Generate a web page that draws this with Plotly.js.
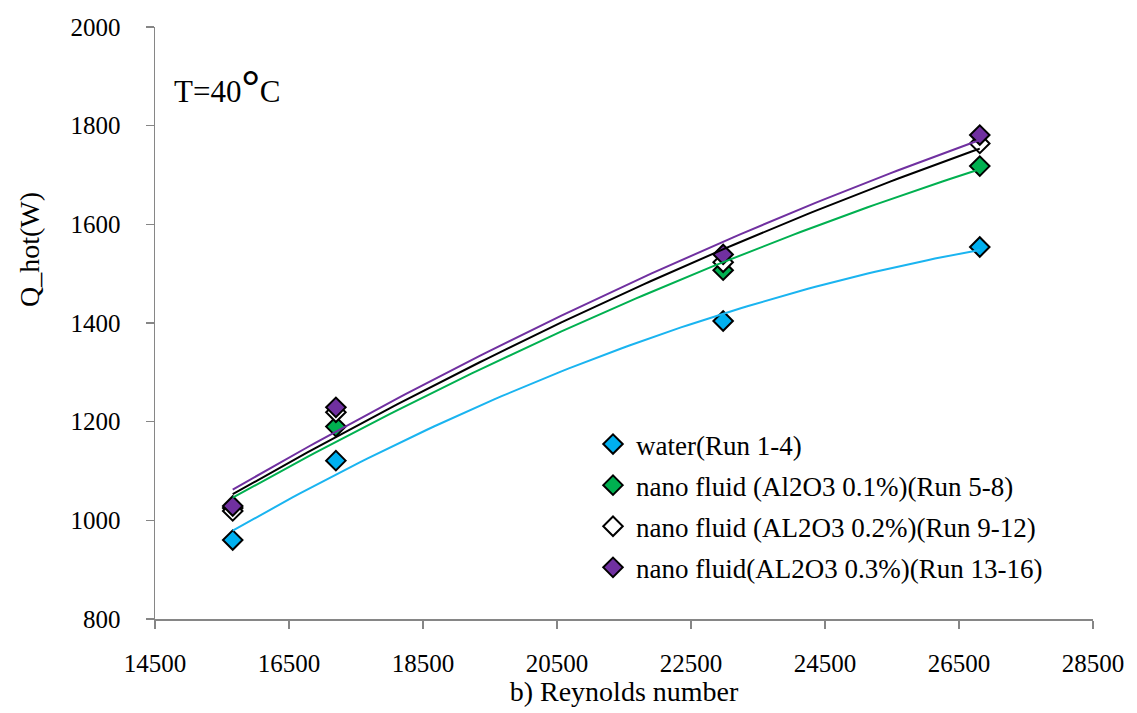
<!DOCTYPE html>
<html>
<head>
<meta charset="utf-8">
<script src="https://cdn.plot.ly/plotly-3.0.1.min.js"></script>
<style>html,body{margin:0;padding:0;background:#fff;}#chart{width:1137px;height:713px;}</style>
</head>
<body>
<div id="chart"></div>
<script>
const reynolds = [15660, 17200, 22980, 26810];
const water = [960, 1121, 1404, 1554];
const al01 = [1025, 1190, 1507, 1718];
const al02 = [1019, 1219, 1523, 1764];
const al03 = [1029, 1229, 1539, 1781];
const seriesNames = [
  'water(Run 1-4)',
  'nano fluid (Al2O3 0.1%)(Run 5-8)',
  'nano fluid (AL2O3 0.2%)(Run 9-12)',
  'nano fluid(AL2O3 0.3%)(Run 13-16)'
];
const xTickVals = [14500, 16500, 18500, 20500, 22500, 24500, 26500, 28500];
const yTickVals = [800, 1000, 1200, 1400, 1600, 1800, 2000];

const markerColors = ['#00B0F0', '#00B050', '#FFFFFF', '#7030A0'];
const lineColors = ['#1AB4F0', '#00B050', '#000000', '#7030A0'];
const allY = [water, al01, al02, al03];

// Excel-style 2nd order polynomial trendline (least squares)
function polyfit2(xs, ys) {
  const x0 = 20000, s = 1000;
  let S = [0,0,0,0,0], T = [0,0,0];
  xs.forEach((x, i) => {
    const t = (x - x0) / s;
    let p = 1;
    for (let k = 0; k < 5; k++) { S[k] += p; if (k < 3) T[k] += p * ys[i]; p *= t; }
  });
  const A = [[S[0],S[1],S[2],T[0]],[S[1],S[2],S[3],T[1]],[S[2],S[3],S[4],T[2]]];
  for (let c = 0; c < 3; c++) {
    for (let r = c + 1; r < 3; r++) {
      const f = A[r][c] / A[c][c];
      for (let k = c; k < 4; k++) A[r][k] -= f * A[c][k];
    }
  }
  const coef = [0,0,0];
  for (let r = 2; r >= 0; r--) {
    let v = A[r][3];
    for (let k = r + 1; k < 3; k++) v -= A[r][k] * coef[k];
    coef[r] = v / A[r][r];
  }
  return x => { const t = (x - x0) / s; return coef[0] + coef[1]*t + coef[2]*t*t; };
}

const traces = [];
allY.forEach((ys, i) => {
  traces.push({
    x: reynolds, y: ys, type: 'scatter', mode: 'markers', name: seriesNames[i],
    legendgroup: 'g' + i,
    marker: {symbol: 'diamond', size: 15, color: markerColors[i], line: {color: '#000000', width: 2}}
  });
});
allY.forEach((ys, i) => {
  const f = polyfit2(reynolds, ys);
  const xmin = Math.min(...reynolds), xmax = Math.max(...reynolds);
  const xs = [], yv = [];
  for (let k = 0; k <= 100; k++) { const x = xmin + (xmax - xmin) * k / 100; xs.push(x); yv.push(f(x)); }
  traces.push({
    x: xs, y: yv, type: 'scatter', mode: 'lines', showlegend: false, hoverinfo: 'skip',
    line: {color: lineColors[i], width: 2}
  });
});

const font = '"Liberation Serif", "DejaVu Serif", serif';
const layout = {
  width: 1137, height: 713,
  margin: {l: 155, r: 44, t: 27, b: 94},
  paper_bgcolor: '#ffffff', plot_bgcolor: '#ffffff',
  font: {family: font, color: '#000000'},
  showlegend: true,
  legend: {
    x: (590 - 155) / 938, y: (619 - 420) / 592, xanchor: 'left', yanchor: 'top',
    font: {family: font, size: 27, color: '#000000'},
    bgcolor: 'rgba(0,0,0,0)', tracegroupgap: 3, itemwidth: 36
  },
  xaxis: {
    range: [14500, 28500], tickvals: xTickVals, ticktext: xTickVals.map(String),
    showline: true, linecolor: '#868686', linewidth: 1.5, mirror: false,
    ticks: 'outside', ticklen: 8, tickcolor: '#868686', tickwidth: 1.2,
    showgrid: false, zeroline: false, ticklabelstandoff: 13,
    tickfont: {family: font, size: 25, color: '#000000'},
    title: {text: 'b) Reynolds number', font: {family: font, size: 28, color: '#000000'}, standoff: 2}
  },
  yaxis: {
    range: [800, 2000], tickvals: yTickVals, ticktext: yTickVals.map(String),
    showline: true, linecolor: '#868686', linewidth: 1.5,
    ticks: 'outside', ticklen: 8, tickcolor: '#868686', tickwidth: 1.2,
    showgrid: false, zeroline: false, ticklabelstandoff: 20,
    tickfont: {family: font, size: 25, color: '#000000'}
  },
  annotations: [
    {text: 'Q_hot(W)', xref: 'paper', yref: 'paper', x: (30 - 155) / 938, y: (619 - 250) / 592,
     xanchor: 'center', yanchor: 'middle',
     textangle: -90, showarrow: false, font: {family: font, size: 28, color: '#000000'}},
    {text: 'T=40<span style="font-size:46px"><b>°</b></span>C', xref: 'paper', yref: 'paper', x: (172 - 155) / 938, y: (619 - 87) / 592,
     xanchor: 'left', yanchor: 'middle', showarrow: false, font: {family: font, size: 31, color: '#000000'}}
  ]
};

Plotly.newPlot('chart', traces, layout, {displayModeBar: false, staticPlot: true});
</script>
</body>
</html>
